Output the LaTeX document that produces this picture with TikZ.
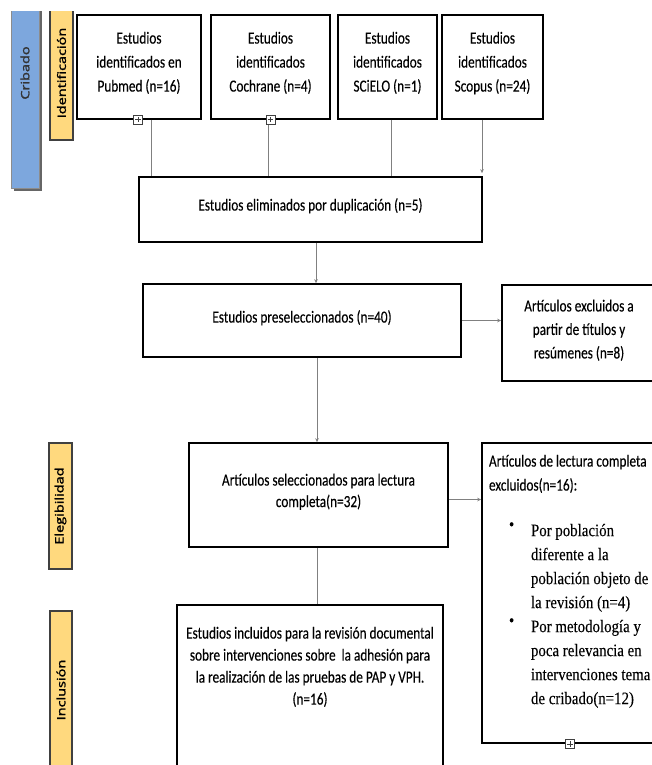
\documentclass[tikz,border=0pt]{standalone}
\usepackage{fontspec}
\usetikzlibrary{arrows.meta}
\newfontfamily\calfont[FakeStretch=0.78,FakeBold=0.2]{Carlito}
\newfontfamily\serfont[FakeStretch=0.85,FakeBold=0.15]{Liberation Serif}
\newfontfamily\barfont[FakeBold=1.6]{Open Sans}
\definecolor{barblue}{HTML}{7DA7DD}
\definecolor{baryellow}{HTML}{FFD97E}
\newcommand{\bxt}[5]{\parbox[c][#2][t]{#1}{\fontsize{17}{#4}\selectfont\vspace*{#3}\centering\begin{tabular}[t]{@{}c@{}}#5\end{tabular}\par}}
\newcommand{\barlbl}[1]{\scalebox{1}[0.8]{#1}}
\newcommand{\bul}{\makebox[22pt][l]{\raisebox{6pt}[0pt][0pt]{\textbullet}}}
\begin{document}
\begin{tikzpicture}[x=1pt,y=-1pt,
  box/.style={draw=black, line width=1.6pt, fill=white, inner sep=0pt, font=\calfont},
  conn/.style={draw=black!50, line width=0.9pt},
  arr/.style={conn, -{Stealth[length=4pt,width=3.5pt]}},
  plusbox/.style={draw=black!75, fill=white, line width=0.7pt, minimum size=9pt, inner sep=0pt,
    path picture={\draw[line width=0.6pt]
      ([yshift=-1.8pt]path picture bounding box.north) -- ([yshift=1.8pt]path picture bounding box.south)
      ([xshift=1.8pt]path picture bounding box.west) -- ([xshift=-1.8pt]path picture bounding box.east);}},
  bbar/.style={draw=black!45, line width=0.6pt, fill=barblue, rotate=90, inner sep=0pt,
    text=black!80, font=\barfont\fontsize{14.5}{17}\selectfont},
  ybar/.style={draw=black!75, line width=1.2pt, fill=baryellow, rotate=90, inner sep=0pt,
    text=black, font=\barfont\fontsize{14.5}{17}\selectfont}
]
\useasboundingbox[fill=white] (0,0) rectangle (652,765);

% side bars
\begin{scope}
  \clip (0,12) rectangle (120,300);
  \fill[black!60] (13.5,-40) rectangle (41.5,190.5);
  \node[bbar, minimum width=230pt, minimum height=28pt] (cribado) at (25,73) {\barlbl{Cribado}};
  \node[ybar, minimum width=134pt, minimum height=23pt] (ident) at (61.5,73) {\barlbl{Identificación}};
\end{scope}
\node[ybar, minimum width=126pt, minimum height=23pt] (eleg) at (60.5,506) {\barlbl{Elegibilidad}};
\node[ybar, minimum width=158pt, minimum height=22pt] (incl) at (61,690) {\barlbl{Inclusión}};

% top boxes
\node[box, minimum width=124pt, minimum height=104pt] (pub) at (139,67)
  {\bxt{124pt}{104pt}{11.8pt}{24}{Estudios\\identificados en\\Pubmed (n=16)}};
\node[box, minimum width=119pt, minimum height=104pt] (coch) at (270.5,67)
  {\bxt{119pt}{104pt}{11.8pt}{24}{Estudios\\identificados\\Cochrane (n=4)}};
\node[box, minimum width=99pt, minimum height=104pt] (sci) at (387.5,67)
  {\bxt{99pt}{104pt}{11.8pt}{24}{Estudios\\identificados\\SCiELO (n=1)}};
\node[box, minimum width=101pt, minimum height=104pt] (sco) at (492.5,67)
  {\bxt{101pt}{104pt}{11.8pt}{24}{Estudios\\identificados\\Scopus (n=24)}};

\node[box, minimum width=343pt, minimum height=65pt] (dup) at (310.5,209.5)
  {\bxt{343pt}{65pt}{16.8pt}{24}{Estudios eliminados por duplicación (n=5)}};
\node[box, minimum width=318pt, minimum height=73pt] (pre) at (302,320.5)
  {\bxt{318pt}{73pt}{21.8pt}{24}{Estudios preseleccionados (n=40)}};
\node[box, minimum width=154pt, minimum height=96pt] (exc) at (579,333)
  {\bxt{154pt}{96pt}{10pt}{23.5}{Artículos excluidos a\\partir de títulos y\\resúmenes (n=8)}};
\node[box, minimum width=259pt, minimum height=104pt] (sel) at (318.5,495)
  {\bxt{259pt}{104pt}{27.5pt}{21.5}{Artículos seleccionados para lectura\\completa(n=32)}};
\node[box, minimum width=266pt, minimum height=220pt] (inc) at (310,715)
  {\bxt{266pt}{220pt}{18.2pt}{22}{Estudios incluidos para la revisión documental\\sobre intervenciones sobre\ \ la adhesión para\\la realización de las pruebas de PAP y VPH.\\(n=16)}};

\node[box, minimum width=176pt, minimum height=300pt] (exc2) at (570,593)
  {\parbox[c][300pt][t]{176pt}{\vspace*{6.8pt}\raggedright
   {\fontsize{17}{24}\selectfont\strut\hspace*{7pt}Artículos de lectura completa\\
    \hspace*{7pt}excluidos(n=16):\strut\par}
   \vspace{21.5pt}
   {\serfont\fontsize{17.5}{24}\selectfont
    \hspace*{27pt}\bul Por población\\
    \hspace*{49pt}diferente a la\\
    \hspace*{49pt}población objeto de\\
    \hspace*{49pt}la revisión (n=4)\\
    \hspace*{27pt}\bul Por metodología y\\
    \hspace*{49pt}poca relevancia en\\
    \hspace*{49pt}intervenciones tema\\
    \hspace*{49pt}de cribado(n=12)\par}}};

% connectors
\draw[conn] ([xshift=12pt]pub.south) -- ([xshift=12pt]pub.south |- dup.north);
\draw[conn] ([xshift=-2.5pt]coch.south) -- ([xshift=-2.5pt]coch.south |- dup.north);
\draw[conn] ([xshift=3.5pt]sci.south) -- ([xshift=3.5pt]sci.south |- dup.north);
\draw[arr, shorten >=3pt] ([xshift=-10.5pt]sco.south) -- ([xshift=-10.5pt]sco.south |- dup.north);
\draw[arr] ([xshift=5.5pt]dup.south) -- ([xshift=5.5pt]dup.south |- pre.north);
\draw[arr] (pre.east) -- (pre.east -| exc.west);
\draw[arr] ([xshift=15pt]pre.south) -- ([xshift=15pt]pre.south |- sel.north);
\draw[arr] ([yshift=-4.5pt]sel.east) -- ([yshift=-4.5pt]sel.east -| exc2.west);
\draw[conn] ([xshift=-1.5pt]sel.south) -- ([xshift=-1.5pt]sel.south |- inc.north);

% collapse markers
\node[plusbox] (plus1) at ([xshift=-1pt]pub.south) {};
\node[plusbox] (plus2) at (coch.south) {};
\node[plusbox] (plus3) at (exc2.south) {};
\end{tikzpicture}
\end{document}
